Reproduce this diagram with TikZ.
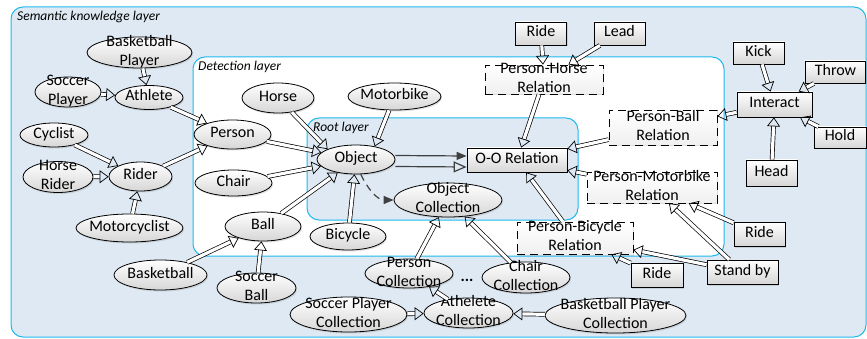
\documentclass[tikz,border=0pt]{standalone}
\usepackage{fontspec}
\setmainfont{Carlito}
\usepackage{tikz}
\usetikzlibrary{arrows.meta,positioning,shapes,calc,shadows}

\definecolor{layerfill}{RGB}{222,233,243}
\definecolor{layerline}{RGB}{30,185,240}
\definecolor{darkline}{RGB}{64,64,64}

% text that may run over its node
\newcommand{\ntxt}[1]{\makebox[0pt]{\smash{\raisebox{-0.25em}{\begin{tabular}{@{}c@{}}#1\end{tabular}}}}}

\begin{document}
\begin{tikzpicture}[x=1pt, y=-1pt,
    font=\fontsize{16}{19}\selectfont,
    obj/.style={ellipse, draw, thick, inner sep=0pt, top color=white, bottom color=gray!32,
        drop shadow={opacity=0.25, shadow xshift=1pt, shadow yshift=-1.5pt}},
    rel/.style={rectangle, draw, thick, inner sep=0pt, top color=white, bottom color=gray!32,
        drop shadow={opacity=0.25, shadow xshift=1pt, shadow yshift=-1.5pt}},
    relbox/.style={rel, dash pattern=on 8pt off 5pt, top color=white, bottom color=gray!12},
    layer/.style={draw=layerline, line width=1pt, rounded corners=12pt},
    layertxt/.style={font=\fontsize{13.5}{15}\selectfont\itshape, anchor=west, inner sep=0pt},
    isa/.style={double=white, double distance=3.2pt, line width=0.7pt, -{Triangle[open, length=9pt, width=13pt]}},
    link/.style={darkline, line width=1.2pt}
]
    \useasboundingbox (0,0) rectangle (867,339);

    % Layers
    \draw[layer, fill=layerfill] (11,7) rectangle (866,337);
    \draw[layer, fill=white] (193,57) rectangle (724,256);
    \draw[layer, fill=layerfill] (307,118) rectangle (578,220);
    \node[layertxt] (semlbl) at (17,17) {Semantic knowledge layer};
    \node[layertxt] (detlbl) at (198,67) {Detection layer};
    \node[layertxt] (rootlbl) at (313,128) {Root layer};

    % Semantic knowledge layer
    \node[obj, minimum width=105, minimum height=31] (bbplayer) at (139.5,52.5) {\ntxt{Basketball\\Player}};
    \node[obj, minimum width=66, minimum height=30] (scplayer) at (68,92) {\ntxt{Soccer\\Player}};
    \node[obj, minimum width=68, minimum height=24] (athlete) at (149,97.5) {\ntxt{Athlete}};
    \node[obj, minimum width=68, minimum height=24] (cyclist) at (54,135) {\ntxt{Cyclist}};
    \node[obj, minimum width=70, minimum height=31] (hrider) at (58,177) {\ntxt{Horse\\Rider}};
    \node[obj, minimum width=63, minimum height=29] (rider) at (140.5,176.5) {\ntxt{Rider}};
    \node[obj, minimum width=107, minimum height=28] (mcyclist) at (129.5,228) {\ntxt{Motorcyclist}};
    \node[obj, minimum width=93, minimum height=30] (bball) at (160.5,275) {\ntxt{Basketball}};
    \node[obj, minimum width=79, minimum height=30] (sball) at (256.5,288) {\ntxt{Soccer\\Ball}};

    % Detection layer
    \node[obj, minimum width=77, minimum height=29] (person) at (232.5,134.5) {\ntxt{Person}};
    \node[obj, minimum width=72, minimum height=30] (horse) at (278,98) {\ntxt{Horse}};
    \node[obj, minimum width=93, minimum height=27] (motorbike) at (394.5,96.5) {\ntxt{Motorbike}};
    \node[obj, minimum width=77, minimum height=26] (chair) at (233.5,183) {\ntxt{Chair}};
    \node[obj, minimum width=76, minimum height=29] (ball) at (263,226.5) {\ntxt{Ball}};
    \node[obj, minimum width=76, minimum height=27] (bicycle) at (348,236.5) {\ntxt{Bicycle}};

    % Root layer
    \node[obj, minimum width=78, minimum height=29] (object) at (356,159.5) {\ntxt{Object}};
    \node[obj, minimum width=108, minimum height=34] (objcoll) at (448,200) {\ntxt{Object\\Collection}};
    \node[rel, minimum width=100, minimum height=24] (oorel) at (517,160) {\ntxt{O-O Relation}};

    % Collections
    \node[obj, minimum width=88, minimum height=29] (percoll) at (409,273.5) {\ntxt{Person\\Collection}};
    \node[font=\fontsize{16}{19}\selectfont\bfseries] (dots) at (467,280) {...};
    \node[obj, minimum width=88, minimum height=31] (chaircoll) at (526,277.5) {\ntxt{Chair\\Collection}};
    \node[obj, minimum width=117, minimum height=35] (spcoll) at (348.5,314.5) {\ntxt{Soccer Player\\Collection}};
    \node[obj, minimum width=89, minimum height=30] (athcoll) at (468.5,313) {\ntxt{Athelete\\Collection}};
    \node[obj, minimum width=141, minimum height=35] (bbpcoll) at (615.5,315.5) {\ntxt{Basketball Player\\Collection}};

    % Relations
    \node[relbox, minimum width=118, minimum height=29] (phrel) at (544,79.5) {\ntxt{Person-Horse\\Relation}};
    \node[relbox, minimum width=108, minimum height=35] (pbrel) at (663,127.5) {\ntxt{Person-Ball\\Relation}};
    \node[relbox, minimum width=130, minimum height=31] (pmrel) at (652,187.5) {\ntxt{Person-Motorbike\\Relation}};
    \node[relbox, minimum width=116, minimum height=32] (pbirel) at (575,238) {\ntxt{Person-Bicycle\\Relation}};

    % Actions
    \node[rel, minimum width=51, minimum height=23] (ridetop) at (541,33.5) {\ntxt{Ride}};
    \node[rel, minimum width=51, minimum height=23] (lead) at (619.5,33.5) {\ntxt{Lead}};
    \node[rel, minimum width=51, minimum height=22] (kick) at (758.5,53) {\ntxt{Kick}};
    \node[rel, minimum width=60, minimum height=22] (throw) at (835.5,72) {\ntxt{Throw}};
    \node[rel, minimum width=75, minimum height=25] (interact) at (774.5,104.5) {\ntxt{Interact}};
    \node[rel, minimum width=52, minimum height=21] (hold) at (840,137.5) {\ntxt{Hold}};
    \node[rel, minimum width=51, minimum height=26] (head) at (771.5,173) {\ntxt{Head}};
    \node[rel, minimum width=51, minimum height=24] (rideright) at (759.5,234) {\ntxt{Ride}};
    \node[rel, minimum width=71, minimum height=24] (standby) at (742.5,272) {\ntxt{Stand by}};
    \node[rel, minimum width=52, minimum height=24] (ridebot) at (657,275) {\ntxt{Ride}};

    % Is-a arrows
    \draw[isa] (bbplayer) -- (athlete);
    \draw[isa] (scplayer) -- (athlete);
    \draw[isa] (athlete) -- (person);
    \draw[isa] (cyclist) -- (rider);
    \draw[isa] (hrider) -- (rider);
    \draw[isa] (mcyclist) -- (rider);
    \draw[isa] (rider) -- (person);
    \draw[isa] (person) -- (object);
    \draw[isa] (horse) -- (object.160);
    \draw[isa] (motorbike) -- (object.35);
    \draw[isa] (chair) -- (object);
    \draw[isa] (ball) -- (object);
    \draw[isa] (bicycle) -- (object);
    \draw[isa] (bball) -- (ball);
    \draw[isa] (sball) -- (ball);

    % Collections
    \draw[isa] (percoll) -- (objcoll);
    \draw[isa] (chaircoll) -- (objcoll);
    \draw[isa] (athcoll) -- (percoll);
    \draw[isa] (spcoll) -- (athcoll);
    \draw[isa] (bbpcoll) -- (athcoll);

    % Relations
    \draw[isa] (phrel) -- (oorel);
    \draw[isa] (pbrel) -- (oorel);
    \draw[isa] (pmrel) -- (oorel);
    \draw[isa] (pbirel) -- (oorel);
    \draw[isa] (ridetop) -- (phrel);
    \draw[isa] (lead) -- (phrel);
    \draw[isa] (kick) -- (interact);
    \draw[isa] (throw) -- (interact);
    \draw[isa] (hold) -- (interact);
    \draw[isa] (head) -- (interact);
    \draw[isa] (interact) -- (pbrel);
    \draw[isa] (rideright) -- (pmrel);
    \draw[isa] (standby) -- (pmrel);
    \draw[isa] (standby) -- (pbirel);
    \draw[isa] (ridebot) -- (pbirel);

    % Root links
    \draw[link, -{Triangle[length=10pt, width=8pt]}] ([yshift=4pt]object.east) -- ([yshift=4pt]oorel.west);
    \draw[link, -{Triangle[open, length=13pt, width=11pt]}] ([yshift=-7pt]object.east) -- ([yshift=-7pt]oorel.west);
    \draw[link, dash pattern=on 7pt off 5pt, -{Triangle[length=10pt, width=8pt]}] (object.-72) to[out=-65, in=180] (objcoll.west);
\end{tikzpicture}
\end{document}
